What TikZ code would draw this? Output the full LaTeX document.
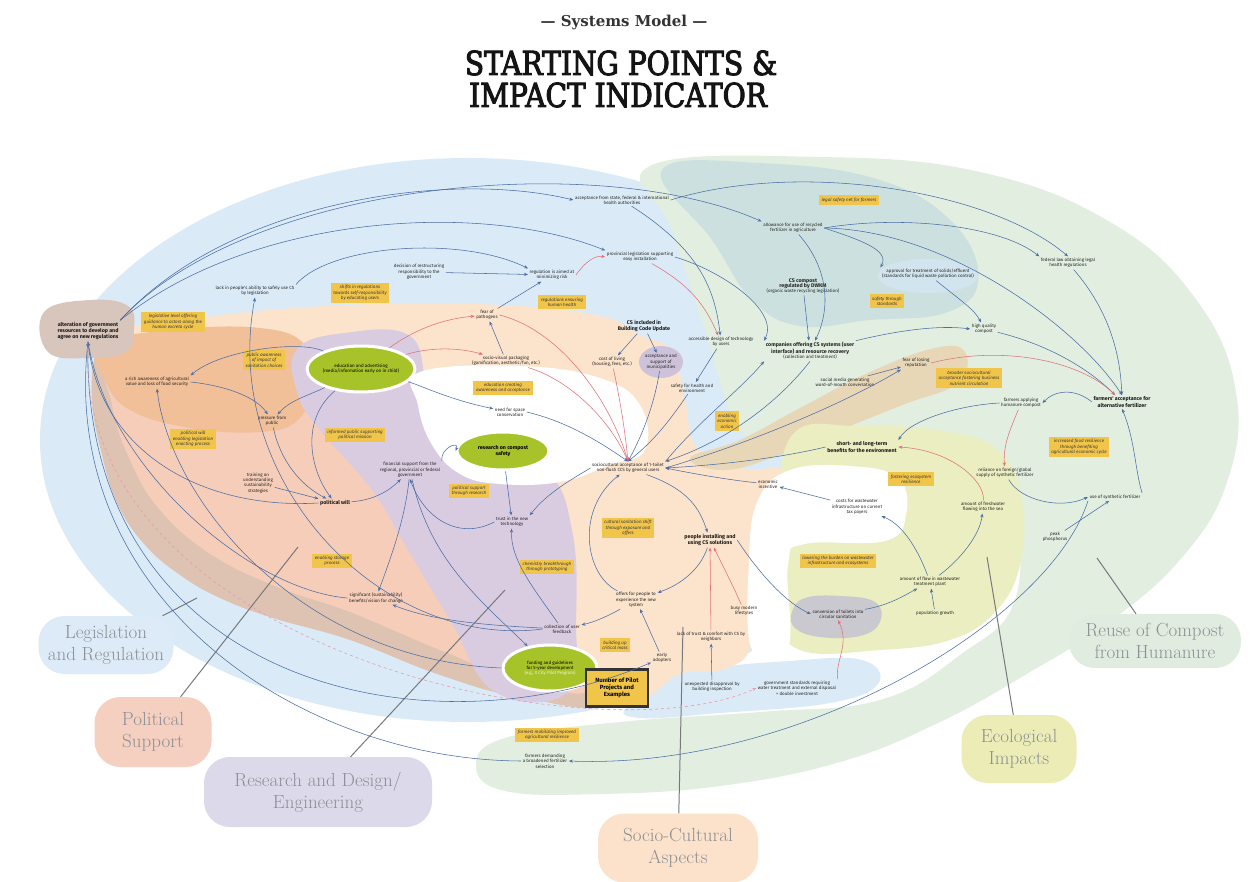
\documentclass[tikz,border=0pt]{standalone}
\usepackage{fontspec}
\newfontfamily\nf{Fira Sans}
\newfontfamily\tf{DejaVu Serif}[FakeStretch=0.85, FakeBold=3]
\newfontfamily\tfb{DejaVu Serif}
\usetikzlibrary{arrows.meta,shapes.geometric}

\definecolor{cSky}{HTML}{DAEBF7}
\definecolor{cReuse}{HTML}{E1EEE0}
\definecolor{cTeal}{HTML}{CCE1DF}
\definecolor{cPeach}{HTML}{FCE3CB}
\definecolor{cSalmon}{HTML}{F6CDB8}
\definecolor{cOrange}{HTML}{F1BF98}
\definecolor{cTan}{HTML}{DEC3B2}
\definecolor{cLav}{HTML}{D9CCE1}
\definecolor{cEco}{HTML}{EAEEC0}
\definecolor{cTanR}{HTML}{E8D7B7}
\definecolor{cAlter}{HTML}{D8C5BB}
\definecolor{cYbox}{HTML}{F1C44A}
\definecolor{cLime}{HTML}{A7C32A}
\definecolor{cGrayBlob}{HTML}{C9C9CF}
\definecolor{cMunic}{HTML}{CEC2DA}
\definecolor{cApprov}{HTML}{D2E5EE}
\definecolor{cArrB}{HTML}{4A6DA6}
\definecolor{cArrR}{HTML}{E0707C}
\definecolor{cDash}{HTML}{E79AAE}
\definecolor{cPtr}{HTML}{77797D}
\definecolor{cLegT}{HTML}{8C9095}
\definecolor{cLegLeg}{HTML}{DCEBF7}
\definecolor{cLegPol}{HTML}{F5CFC0}
\definecolor{cLegRes}{HTML}{DCD9EB}
\definecolor{cLegSoc}{HTML}{FCE2CA}
\definecolor{cLegEco}{HTML}{ECEDB6}
\definecolor{cLegReuse}{HTML}{E0ECE0}

\tikzset{
  lb/.style={font=\nf\fontsize{4.5}{5.3}\selectfont, align=center, inner sep=1.5pt, text=black!85},
  bl/.style={font=\nf\bfseries\fontsize{5.3}{6.3}\selectfont, align=center, inner sep=1.5pt, text=black!90},
  yb/.style={font=\nf\itshape\fontsize{4.5}{5.3}\selectfont, align=center, fill=cYbox, inner sep=2.6pt, text=black!78},
  ge/.style={ellipse, fill=cLime, draw=white, line width=3pt, align=center, inner sep=0pt},
  ab/.style={-{Stealth[length=4pt,width=3.2pt]}, draw=cArrB, line width=0.55pt},
  ar/.style={ab, draw=cArrR},
  ad/.style={-{Stealth[length=4pt,width=3.2pt]}, draw=cDash, line width=0.6pt, dashed},
  ptr/.style={draw=cPtr, line width=1pt},
  legblob/.style={rectangle, rounded corners=26pt, font=\fontsize{19}{22}\selectfont, text=cLegT, align=center, inner sep=0pt},
  region/.style={smooth cycle, tension=0.7}
}

\begin{document}
\begin{tikzpicture}[x=1pt,y=-1pt]
\useasboundingbox (0,0) rectangle (1250,882);
\fill[white] (0,0) rectangle (1250,882);

% ---------- background regions ----------
\fill[cSky] (468,440) ellipse [x radius=428pt, y radius=282pt];
\fill[cReuse] plot[region] coordinates {(650,166) (820,157) (980,172) (1110,222) (1195,298) (1236,392) (1226,485) (1178,562) (1105,625) (1030,672) (940,722) (840,762) (720,786) (600,794) (505,791) (476,766) (505,738) (620,722) (760,712) (880,700) (960,655) (1015,600) (1010,500) (960,445) (870,430) (790,440) (740,430) (705,330) (672,230)};
\fill[cTeal] plot[region] coordinates {(662,170) (760,163) (880,180) (955,225) (978,282) (945,313) (870,320) (800,326) (752,300) (712,240)};
\fill[cApprov] (928,276) ellipse [x radius=50pt, y radius=17pt];
\fill[cSky] plot[region] coordinates {(630,705) (700,672) (790,661) (862,660) (878,684) (830,703) (720,713) (640,718)};
\fill[cPeach] plot[region] coordinates {(105,342) (200,318) (350,305) (500,305) (600,316) (640,335) (672,352) (685,400) (697,448) (740,468) (785,470) (762,500) (752,560) (752,640) (728,668) (680,674) (640,700) (580,698) (520,640) (470,560) (400,480) (300,420) (180,420)};
\fill[cTan] plot[region] coordinates {(96,352) (110,345) (200,340) (300,345) (370,400) (450,500) (530,610) (600,700) (520,697) (440,675) (350,640) (273,618) (220,598) (180,575) (145,545) (118,505) (102,455) (92,400)};
\fill[cSalmon] plot[region] coordinates {(112,356) (200,342) (300,345) (370,400) (450,500) (530,610) (588,688) (520,680) (440,650) (350,612) (280,588) (212,555) (160,510) (130,460) (112,405)};
\fill[cOrange] plot[region] coordinates {(100,345) (170,330) (260,328) (305,345) (312,385) (298,420) (260,432) (190,428) (130,410) (105,380)};
\fill[cLav] plot[region] coordinates {(296,350) (345,333) (410,336) (430,390) (470,440) (545,470) (572,530) (576,620) (568,692) (495,692) (450,620) (405,545) (372,490) (320,430) (298,395)};
\fill[white] plot[region] coordinates {(420,372) (520,366) (600,378) (640,405) (645,450) (610,465) (560,482) (500,484) (460,474) (432,445) (418,405)};
\fill[cTanR] plot[region] coordinates {(690,458) (740,440) (800,408) (870,372) (935,348) (965,352) (958,383) (905,404) (845,428) (780,455) (725,470)};
\fill[cEco] plot[region] coordinates {(790,438) (860,426) (950,432) (1000,452) (1022,500) (1020,565) (995,612) (950,640) (880,650) (800,650) (778,610) (780,545)};
\fill[white] plot[region] coordinates {(752,650) (749,560) (758,500) (790,470) (850,466) (898,478) (906,515) (885,541) (805,544) (788,565) (788,648)};
\fill[cAlter] plot[region] coordinates {(44,312) (90,300) (128,306) (134,330) (126,352) (90,358) (48,352)};
\fill[cMunic] (661,362) ellipse [x radius=22pt, y radius=16pt];
\fill[cGrayBlob] plot[region] coordinates {(792,612) (805,598) (840,596) (875,602) (880,622) (860,636) (820,637) (795,628)};

% ---------- title ----------
\node[anchor=base, font=\tfb\bfseries\fontsize{15}{18}\selectfont, text=black!80, inner sep=0pt] (subt) at (624,27) {— Systems Model —};
\node[anchor=base, font=\tf\fontsize{33}{38}\selectfont, text=black!92, inner sep=0pt] (ttlA) at (621,75) {STARTING POINTS \&};
\node[anchor=base, font=\tf\fontsize{33}{38}\selectfont, text=black!92, inner sep=0pt] (ttlB) at (618,107) {IMPACT INDICATOR};

% ---------- legend ----------
\node[legblob, fill=cLegLeg, minimum width=135pt, minimum height=58pt] (legisL) at (106,645) {Legislation\\and Regulation};
\node[legblob, fill=cLegPol, minimum width=117pt, minimum height=70pt] (politL) at (153,732) {Political\\Support};
\node[legblob, fill=cLegRes, minimum width=228pt, minimum height=70pt] (resL) at (318,792) {Research and Design/\\Engineering};
\node[legblob, fill=cLegSoc, minimum width=160pt, minimum height=69pt] (socL) at (678,848) {Socio-Cultural\\Aspects};
\node[legblob, fill=cLegEco, minimum width=115pt, minimum height=68pt] (ecoL) at (1019,749) {Ecological\\Impacts};
\node[legblob, fill=cLegReuse, minimum width=172pt, minimum height=54pt] (reuseL) at (1155,641) {Reuse of Compost\\from Humanure};
\coordinate (pLeg) at (197,598);
\coordinate (pPol) at (298,547);
\coordinate (pRes) at (505,590);
\coordinate (pSoc) at (683,627);
\coordinate (pEco) at (987,557);
\coordinate (pReu) at (1097,558);
\draw[ptr] (legisL) -- (pLeg);
\draw[ptr] (politL) -- (pPol);
\draw[ptr] (resL) -- (pRes);
\draw[ptr] (socL) -- (pSoc);
\draw[ptr] (ecoL) -- (pEco);
\draw[ptr] (reuseL) -- (pReu);

% ---------- ellipse nodes ----------
\node[ge, minimum width=100pt, minimum height=46pt, font=\nf\fontsize{4.5}{5.3}\selectfont] (education) at (361,369) {education and advertising\\(media/information early on in child)};
\node[ge, minimum width=92pt, minimum height=38pt, font=\nf\bfseries\fontsize{5.3}{6.3}\selectfont] (research) at (503,451) {research on compost\\safety};
\node[ge, minimum width=94pt, minimum height=46pt, font=\nf\fontsize{4.4}{5.2}\selectfont] (funding) at (550,668) {funding and guidelines\\for 5-year development\\{\color{white!85!cLime}(e.g., X City Pilot Program)}};

% ---------- legislation ----------
\node[bl] (alter) at (88,331) {alteration of government\\resources to develop and\\agree on new regulations};
\node[lb] (lackpeople) at (255,291) {lack in people's ability to safely use CS\\by legislation};
\node[yb] (ybLegis) at (173,322) {legislative level offering\\guidance to actors along the\\human excreta cycle};
\node[yb] (ybShifts) at (360,293) {shifts in regulations\\towards self-responsibility\\by educating users};
\node[lb] (restruct) at (419,272) {decision of restructuring\\responsibility to the\\government};
\node[lb] (regaim) at (552,275) {regulation is aimed at\\minimizing risk};
\node[yb] (ybRegHealth) at (562,302) {regulations ensuring\\human health};
\node[lb] (accept) at (622,200) {acceptance from state, federal \& international\\health authorities};
\node[lb] (provleg) at (640,257) {provincial legislation supporting\\easy installation};

% ---------- reuse of compost ----------
\node[yb] (ybLegal) at (849,200) {legal safety net for farmers};
\node[lb] (allow) at (793,228) {allowance for use of recycled\\fertilizer in agriculture};
\node[lb] (cscomp) at (803,286) {{\bfseries\fontsize{5.3}{6.3}\selectfont CS compost}\\{\bfseries\fontsize{5.3}{6.3}\selectfont regulated by DWKM}\\(organic waste recycling legislation)};
\node[lb] (approval) at (928,274) {approval for treatment of solids/effluent\\(standards for liquid waste pollution control)};
\node[yb] (ybSafety) at (887,301) {safety through\\standards};
\node[lb] (fedlaw) at (1068,263) {federal law obtaining legal\\health regulations};
\node[lb] (hq) at (984,329) {high quality\\compost};
\node[bl] (farmacc) at (1122,402) {farmers' acceptance for\\alternative fertilizer};
\node[yb] (ybBroad) at (969,378) {broader sociocultural\\acceptance fostering business\\nutrient circulation};
\node[lb] (farmapp) at (1021,403) {farmers applying\\humanure compost};
\node[yb] (ybFood) at (1079,447) {increased food resilience\\through benefiting\\agricultural economic cycle};
\node[lb] (reliance) at (1005,473) {reliance on foreign/global\\supply of synthetic fertilizer};
\node[lb] (synth) at (1115,497) {use of synthetic fertilizer};
\node[lb] (peak) at (1055,537) {peak\\phosphorus};
\node[lb] (companies) at (810,351) {{\bfseries\fontsize{5.3}{6.3}\selectfont companies offering CS systems (user}\\{\bfseries\fontsize{5.3}{6.3}\selectfont interface) and resource recovery}\\(collection and treatment)};
\node[yb] (ybMobil) at (547,735) {farmers mobilizing improved\\agricultural resilience};
\node[lb] (fdemand) at (545,761) {farmers demanding\\a broadened fertilizer\\selection};

% ---------- ecological ----------
\node[bl] (benefits) at (862,447) {short- and long-term\\benefits for the environment};
\node[yb] (ybFoster) at (911,479) {fostering ecosystem\\resilience};
\node[lb] (freshw) at (983,507) {amount of freshwater\\flowing into the sea};
\node[lb] (costs) at (857,507) {costs for wastewater\\infrastructure on current\\tax payers};
\node[yb] (ybLower) at (838,561) {lowering the burden on wastewater\\infrastructure and ecosystems};
\node[lb] (flow) at (930,582) {amount of flow in wastewater\\treatment plant};
\node[lb] (pop) at (935,613) {population growth};
\node[lb] (convert) at (838,614) {conversion of toilets into\\circular sanitation};
\node[lb] (govstd) at (797,688) {government standards requiring\\water treatment and external disposal\\= double investment};

% ---------- socio-cultural ----------
\node[bl] (csbc) at (644,326) {CS included in\\Building Code Update};
\node[lb] (munic) at (661,362) {acceptance and\\support of\\municipalities};
\node[lb] (living) at (612,362) {cost of living\\(housing, fees, etc.)};
\node[lb] (design) at (721,342) {accessible design of technology\\by users};
\node[lb] (safety) at (692,388) {safety for health and\\environment};
\node[yb] (ybEcon) at (727,421) {enabling\\economic\\action};
\node[lb] (social) at (845,382) {social media generating\\word-of-mouth conversation};
\node[lb] (fear) at (916,363) {fear of losing\\reputation};
\node[lb] (incent) at (768,484) {economic\\incentive};
\node[lb] (sociocult) at (628,468) {sociocultural acceptance of 1-toilet\\non-flush CCS by general users};
\node[yb] (ybCultural) at (628,528) {cultural sanitation shift\\through exposure and\\offers};
\node[bl] (people) at (710,540) {people installing and\\using CS solutions};
\node[lb] (busy) at (744,611) {busy modern\\lifestyles};
\node[lb] (lacktrust) at (711,637) {lack of trust \& comfort with CS by\\neighbors};
\node[lb] (disapp) at (712,687) {unexpected disapproval by\\building inspection};
\node[lb] (offers) at (636,600) {offers for people to\\experience the new\\system};
\node[yb] (ybCritical) at (615,645) {building up\\critical mass};
\node[lb] (early) at (662,658) {early\\adopters};
\node[lb] (collection) at (562,629) {collection of user\\feedback};
\node[draw=black!80, line width=2.2pt, fill=cYbox, font=\nf\bfseries\fontsize{6}{7.2}\selectfont, align=center, minimum width=62pt, minimum height=37pt, inner sep=1pt] (pilot) at (617,688) {Number of Pilot\\Projects and\\Examples};
\node[lb] (fearpath) at (487,315) {fear of\\pathogens};
\node[lb] (sociovis) at (506,361) {socio-visual packaging\\(gamification, aesthetic/fun, etc.)};
\node[yb] (ybEduc) at (503,388) {education creating\\awareness and acceptance};
\node[lb] (needspace) at (510,412) {need for space\\conservation};

% ---------- research / political ----------
\node[lb] (trust) at (512,522) {trust in the new\\technology};
\node[yb] (ybChem) at (547,567) {chemistry breakthrough\\through prototyping};
\node[yb] (ybPolRes) at (469,491) {political support\\through research};
\node[lb] (financial) at (410,470) {financial support from the\\regional, provincial or federal\\government};
\node[yb] (ybInformed) at (355,435) {informed public supporting\\political mission};
\node[bl] (politwill) at (335,503) {political will};
\node[lb] (signif) at (376,598) {significant (sustainability)\\benefits/vision for change};
\node[yb] (ybStorage) at (332,561) {enabling storage\\process};
\node[lb] (training) at (258,483) {training on\\understanding\\sustainability\\strategies};
\node[lb] (pressure) at (272,421) {pressure from\\public};
\node[yb] (ybPolWill) at (193,439) {political will\\enabling legislation\\enacting process};
\node[yb] (ybPublic) at (264,360) {public awareness\\of impact of\\sanitation choices};
\node[lb] (richaware) at (157,382) {a rich awareness of agricultural\\value and loss of food security};

% ---------- connectors: legislation ----------
\draw[ab] (alter.north east) .. controls (250,180) and (600,150) .. (allow.north west);
\draw[ab] (alter.north east) .. controls (230,200) and (450,170) .. (accept.west);
\draw[ab] (alter.north east) .. controls (250,215) and (480,200) .. (provleg.north west);
\draw[ab] (lackpeople.north east) .. controls (330,245) and (460,235) .. (regaim.north west);
\draw[ab] (restruct) -- (regaim);
\draw[ab] (fearpath) -- (regaim);
\draw[ar] (regaim.east) .. controls (585,262) and (595,255) .. (provleg.west);
\draw[ab] (accept.east) .. controls (800,160) and (990,190) .. (fedlaw.north);
\draw[ab] (accept) .. controls (700,250) and (715,290) .. (design);
\draw[ab] (provleg.east) .. controls (720,270) and (780,310) .. (companies.north west);
\draw[ar] (provleg) .. controls (690,285) and (705,305) .. (design);

% ---------- connectors: reuse of compost ----------
\draw[ab] (allow) .. controls (830,270) and (830,310) .. (companies);
\draw[ab] (cscomp) -- (companies);
\draw[ab] (allow.east) .. controls (860,240) and (890,250) .. (approval.north west);
\draw[ab] (allow.east) .. controls (900,215) and (1000,225) .. (fedlaw.north west);
\draw[ab] (allow.east) .. controls (950,230) and (1080,330) .. (farmacc.north);
\draw[ab] (approval) .. controls (960,300) and (975,310) .. (hq);
\draw[ab] (companies.north east) .. controls (900,330) and (940,325) .. (hq.west);
\draw[ab] (hq) .. controls (1050,345) and (1090,370) .. (farmacc);
\draw[ab] (fedlaw) .. controls (1100,300) and (1120,340) .. (farmacc);
\draw[ar] (fear.east) .. controls (1000,345) and (1080,360) .. (farmacc);
\draw[ab] (farmacc.west) .. controls (1075,388) and (1055,390) .. (farmapp.east);
\draw[ar] (farmapp) .. controls (1010,430) and (1003,445) .. (reliance);
\draw[ab] (reliance) .. controls (1020,500) and (1060,510) .. (synth.west);
\draw[ab] (peak) -- (synth);
\draw[ab] (synth.north east) .. controls (1135,470) and (1135,440) .. (farmacc.south);
\draw[ab] (farmapp.west) .. controls (960,405) and (910,420) .. (benefits.north east);
\draw[ab] (synth.south west) .. controls (1050,620) and (800,770) .. (fdemand.east);

% ---------- connectors: ecological ----------
\draw[ar] (freshw) .. controls (985,480) and (950,450) .. (benefits.east);
\draw[ab] (flow) .. controls (960,560) and (980,535) .. (freshw);
\draw[ab] (flow) .. controls (920,555) and (905,525) .. (costs);
\draw[ab] (pop) -- (flow);
\draw[ab] (convert) .. controls (890,605) and (905,595) .. (flow);
\draw[ab] (people.east) .. controls (750,560) and (780,600) .. (convert.west);
\draw[ab] (costs) -- (incent);
\draw[ar] (govstd.north east) .. controls (835,660) and (850,645) .. (convert.south);

% ---------- connectors: socio-cultural ----------
\draw[ab] (incent) .. controls (730,480) and (700,475) .. (sociocult.east);
\draw[ab] (benefits.west) .. controls (780,458) and (720,465) .. (sociocult.east);
\draw[ab] (companies.south) .. controls (780,400) and (730,440) .. (sociocult.north east);
\draw[ab] (sociocult.north east) .. controls (700,420) and (740,390) .. (companies.south west);
\draw[ab] (sociocult.east) .. controls (760,440) and (850,400) .. (fear.south west);
\draw[ab] (social) -- (fear);
\draw[ab] (sociocult) .. controls (690,490) and (700,510) .. (people);
\draw[ar] (lacktrust) -- (people);
\draw[ab] (disapp) -- (lacktrust);
\draw[ar] (busy) .. controls (735,590) and (725,570) .. (people);
\draw[ab] (people) .. controls (700,570) and (680,585) .. (offers);
\draw[ab] (offers) .. controls (585,575) and (575,510) .. (sociocult);
\draw[ab] (offers) .. controls (610,615) and (595,622) .. (collection);
\draw[ab] (early) -- (offers);
\draw[ab] (csbc) -- (living);
\draw[ab] (csbc) -- (munic);
\draw[ab] (munic) .. controls (655,400) and (645,430) .. (sociocult.north);
\draw[ab] (design) -- (safety);
\draw[ab] (safety) .. controls (670,420) and (655,440) .. (sociocult.north);
\draw[ar] (fearpath.east) .. controls (560,330) and (610,400) .. (sociocult.north);
\draw[ar] (sociovis) .. controls (570,380) and (610,420) .. (sociocult.north);
\draw[ar] (living) .. controls (620,400) and (625,430) .. (sociocult.north);
\draw[ab] (sociovis) -- (fearpath);
\draw[ab] (education) .. controls (420,385) and (450,400) .. (needspace);
\draw[ab] (needspace.east) .. controls (560,420) and (590,435) .. (sociocult.north);
\draw[ar] (education) .. controls (400,340) and (430,320) .. (fearpath);
\draw[ar] (education) .. controls (420,350) and (450,345) .. (sociovis);

% ---------- connectors: research and politics ----------
\draw[ab] (research) -- (trust);
\draw[ab] (sociocult.west) .. controls (570,480) and (545,495) .. (trust.north east);
\draw[ab] (collection) .. controls (535,590) and (510,560) .. (trust);
\draw[ab] (trust.west) .. controls (460,540) and (425,520) .. (financial.south);
\draw[ab] (financial.north east) .. controls (440,448) and (460,440) .. (research.west);
\draw[ab] (politwill) .. controls (375,500) and (390,490) .. (financial);
\draw[ab] (financial) .. controls (405,520) and (390,560) .. (signif);
\draw[ab] (financial) .. controls (430,560) and (480,600) .. (funding);
\draw[ab] (collection) .. controls (480,625) and (430,620) .. (signif);
\draw[ab] (education) .. controls (300,340) and (220,350) .. (richaware.north east);
\draw[ab] (richaware.east) .. controls (220,385) and (255,395) .. (pressure);
\draw[ab] (education) .. controls (310,395) and (290,400) .. (pressure);
\draw[ab] (pressure) .. controls (280,460) and (300,485) .. (politwill);
\draw[ab] (training) -- (politwill);
\draw[ab] (education) .. controls (300,420) and (310,470) .. (politwill);
\draw[ab] (politwill.west) .. controls (200,510) and (100,450) .. (alter.south);
\draw[ab] (signif.west) .. controls (250,590) and (110,470) .. (alter.south);
\draw[ab] (collection.west) .. controls (380,650) and (220,480) .. (lackpeople.south);
\draw[ab] (funding.west) .. controls (300,660) and (170,500) .. (richaware.south);
\draw[ab] (fdemand.west) .. controls (300,760) and (60,600) .. (alter.south);
\draw[ab] (alter.south) .. controls (80,680) and (420,760) .. (early);
\draw[ad] (alter.south) .. controls (70,650) and (600,760) .. (govstd.west);

\end{tikzpicture}
\end{document}
